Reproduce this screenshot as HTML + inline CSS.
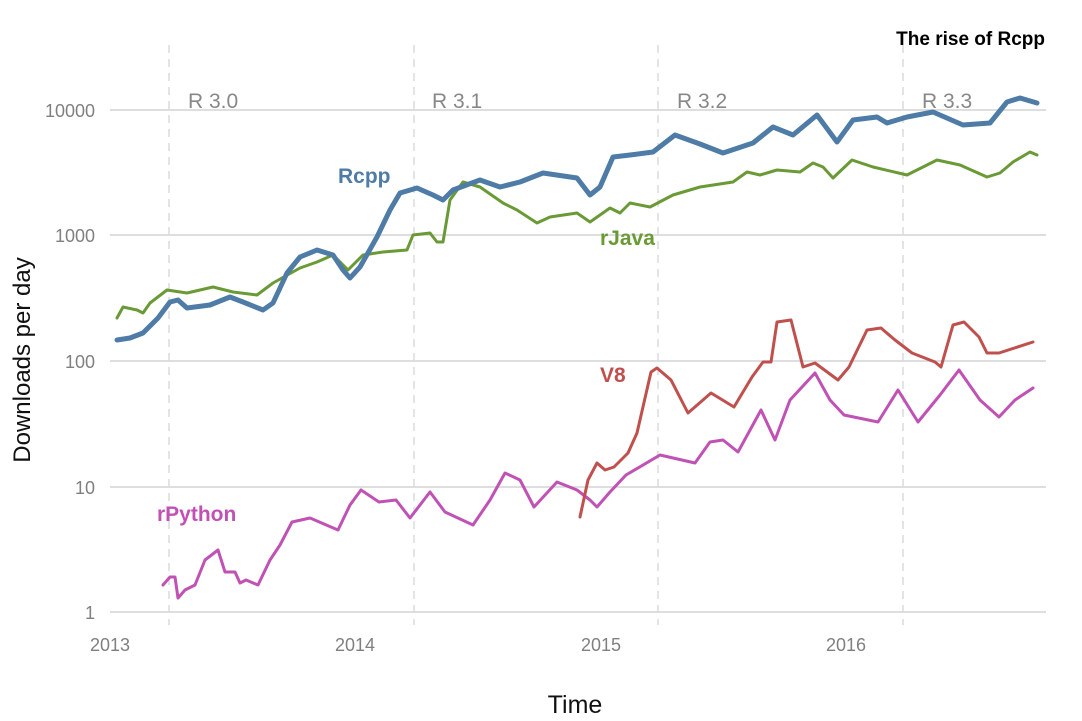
<!DOCTYPE html>
<html><head><meta charset="utf-8"><style>body{margin:0;background:#fff}svg{display:block}text{font-family:"Liberation Sans",sans-serif}</style></head><body>
<svg width="1082" height="721" viewBox="0 0 1082 721">
<g stroke="#d4d4d4" stroke-width="1.5">
<line x1="110" y1="110" x2="1046" y2="110"/><line x1="110" y1="235" x2="1046" y2="235"/><line x1="110" y1="361" x2="1046" y2="361"/><line x1="110" y1="487" x2="1046" y2="487"/><line x1="110" y1="612" x2="1046" y2="612"/>
</g>
<g stroke="#dcdcdc" stroke-width="1.5" stroke-dasharray="8,6">
<line x1="169" y1="45" x2="169" y2="625"/><line x1="414" y1="45" x2="414" y2="625"/><line x1="658" y1="45" x2="658" y2="625"/><line x1="903" y1="45" x2="903" y2="625"/>
</g>
<g fill="#888" font-size="21"><text x="188" y="108">R 3.0</text><text x="432" y="108">R 3.1</text><text x="677" y="108">R 3.2</text><text x="922" y="108">R 3.3</text></g>
<g fill="#808080" font-size="18" text-anchor="end"><text x="95" y="117">10000</text><text x="95" y="242">1000</text><text x="95" y="368">100</text><text x="95" y="494">10</text><text x="95" y="619">1</text></g>
<g fill="#808080" font-size="18" text-anchor="middle"><text x="110" y="651">2013</text><text x="355" y="651">2014</text><text x="601" y="651">2015</text><text x="846" y="651">2016</text></g>
<text x="1045" y="45" font-size="19" font-weight="bold" text-anchor="end" fill="#000">The rise of Rcpp</text>
<text x="575" y="713" font-size="25" text-anchor="middle" fill="#111">Time</text>
<text transform="translate(30,360) rotate(-90)" font-size="24" text-anchor="middle" fill="#111">Downloads per day</text>
<g fill="none" stroke-linejoin="round" stroke-linecap="round">
<polyline stroke="#6a9a35" stroke-width="3" points="117,318 123,307 137,310 143,313 150,303 167,290 187,293 213,287 233,292 257,295 273,283 300,268 317,262 333,255 348,270 363,255 383,252 407,250 413,235 430,233 437,242 443,242 450,200 463,182 480,187 503,203 517,210 537,223 550,217 577,213 590,222 610,208 620,213 630,203 650,207 673,195 700,187 733,182 747,172 760,175 777,170 800,172 813,163 823,167 833,178 852,160 873,167 907,175 937,160 960,165 987,177 1000,173 1013,162 1030,152 1037,155"/>
<polyline stroke="#4e7ca6" stroke-width="5" points="117,340 130,338 143,333 158,318 170,302 178,300 187,308 210,305 230,297 243,302 263,310 273,303 287,273 300,257 317,250 333,255 343,270 350,278 360,267 377,237 390,210 400,193 417,188 433,195 443,200 453,190 480,180 500,187 520,182 543,173 577,178 590,195 600,187 613,157 630,155 653,152 675,135 700,144 723,153 753,143 773,127 793,135 817,115 837,142 853,120 877,117 887,123 907,117 933,112 963,125 990,123 1007,102 1020,98 1037,103"/>
<polyline stroke="#c052b5" stroke-width="3" points="163,585 170,577 175,577 178,598 185,590 195,585 205,560 218,550 225,572 235,572 240,583 246,580 258,585 270,560 280,545 292,522 310,518 338,530 350,505 361,490 379,502 396,500 410,518 430,492 445,512 473,525 490,500 505,473 520,480 534,507 557,482 577,490 590,500 597,507 610,492 626,475 660,455 695,463 710,442 723,440 738,452 761,410 775,440 790,400 815,373 830,400 844,415 878,422 898,390 918,422 940,395 959,370 980,400 999,417 1015,400 1033,388"/>
<polyline stroke="#c0504d" stroke-width="3" points="580,517 588,480 597,463 605,470 614,467 628,453 637,433 651,372 657,368 671,380 688,413 711,393 734,407 752,377 763,362 771,362 777,322 791,320 803,367 815,363 838,380 849,367 867,330 881,328 895,340 912,353 935,362 941,367 953,325 964,322 979,337 987,353 999,353 1033,342"/>
</g>
<g font-size="21" font-weight="bold"><text x="338" y="183" fill="#4e7ca6">Rcpp</text><text x="600" y="245" fill="#6a9a35">rJava</text><text x="600" y="382" fill="#c0504d">V8</text><text x="157" y="521" fill="#c052b5">rPython</text></g>
</svg>
</body></html>
